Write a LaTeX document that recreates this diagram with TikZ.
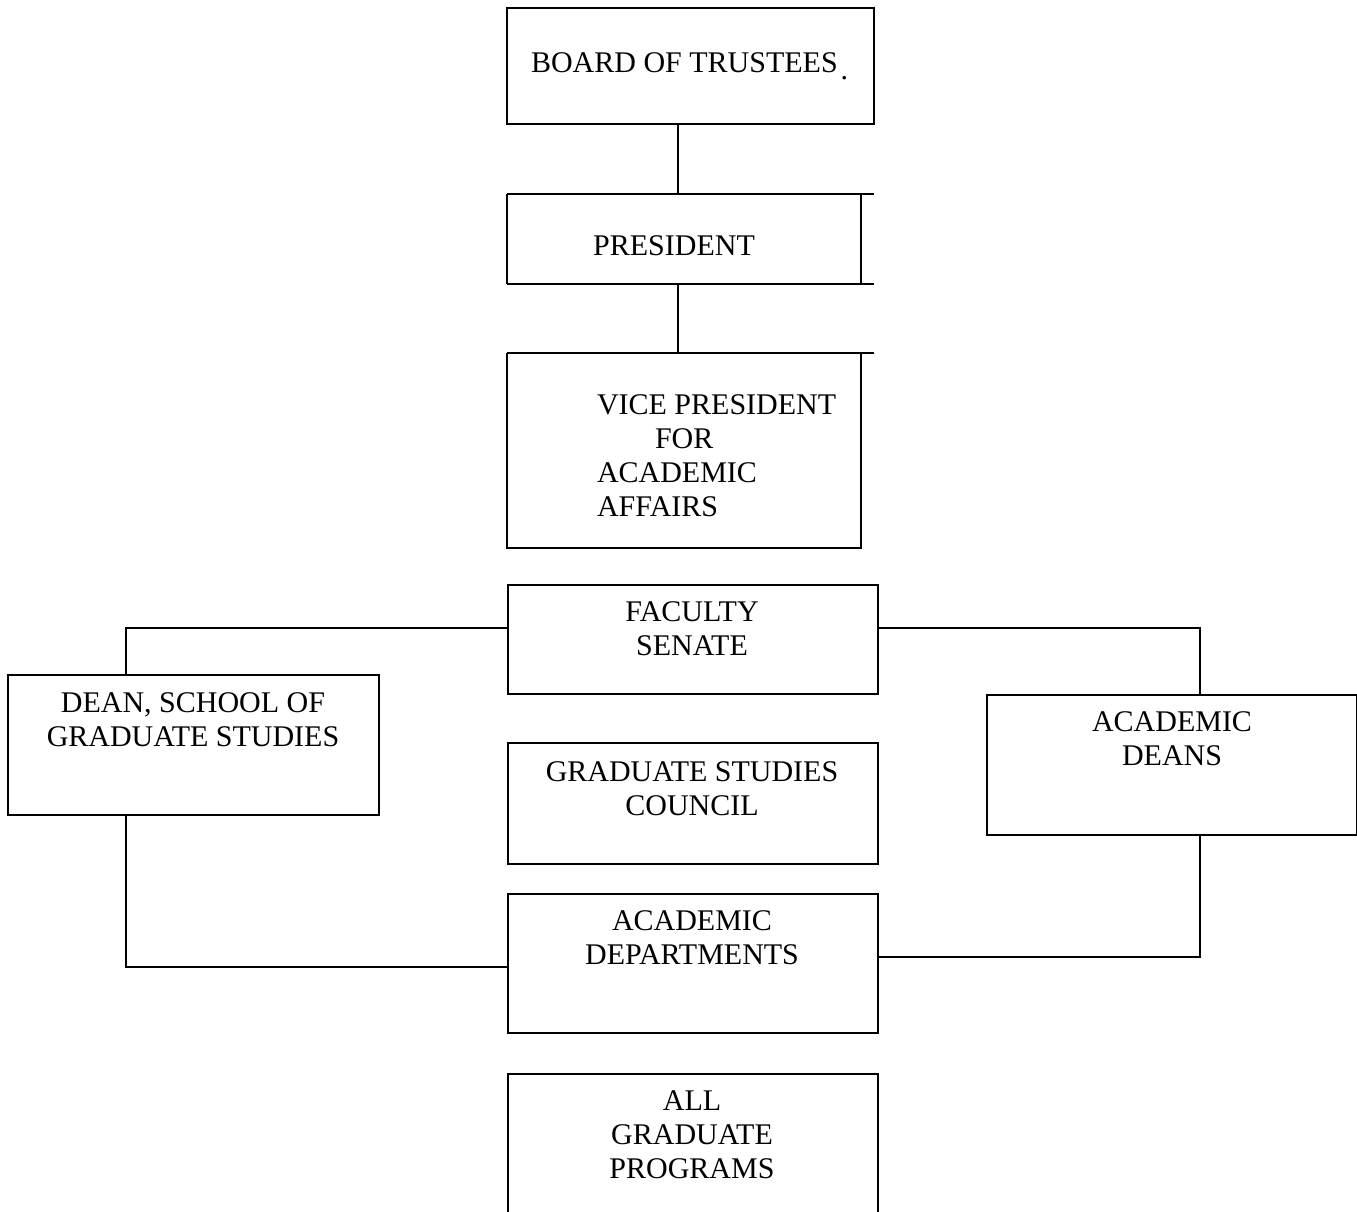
\documentclass[tikz,border=0pt]{standalone}
\usepackage{fontspec}
\setmainfont{Liberation Serif}
\begin{document}
\begin{tikzpicture}[x=1pt,y=-1pt,
  box/.style={draw, line width=1.6pt, inner sep=0pt, outer sep=0pt, anchor=north west},
  frame/.style={inner sep=0pt, outer sep=0pt, anchor=north west},
  conn/.style={line width=1.2pt},
  thinedge/.style={line width=1.1pt},
  thickedge/.style={line width=2.4pt},
  txt/.style={font=\fontsize{30}{34}\selectfont, inner sep=0pt, outer sep=0pt, align=center, anchor=north}]
\useasboundingbox (0,0) rectangle (1357,1212);
\begin{scope}
\clip (0,0) rectangle (1357,1212);
% Board of trustees
\node[box, line width=2.6pt, minimum width=367pt, minimum height=116pt] (board) at (507,8) {};
\node[txt, anchor=north west] (boardt) at (531,53) {BOARD OF TRUSTEES\hspace{3pt}\raisebox{-7pt}{.}};
% President (open frame)
\node[frame, minimum width=367pt, minimum height=90pt] (pres) at (507,194) {};
\draw[thinedge] (pres.north west) -- (pres.north east);
\draw[thinedge] (pres.north west) -- (pres.south west);
\draw[thickedge] (pres.south west) -- (pres.south east);
\coordinate (presv) at (861,194);
\draw[thinedge] (presv) -- (presv |- pres.south);
\node[txt] (prest) at (674,236) {PRESIDENT};
% Vice president
\node[frame, minimum width=354pt, minimum height=195pt] (vp) at (507,353) {};
\coordinate (vpte) at (874,353);
\draw[thinedge] (vp.north west) -- (vpte);
\draw[thinedge] (vp.north west) -- (vp.south west) -- (vp.south east) -- (vp.north east);
\node[txt, align=left, anchor=north west] (vpt) at (597,395) {VICE PRESIDENT\\\hspace*{58pt}FOR\\ACADEMIC\\AFFAIRS};
% connectors top
\coordinate (pt) at (678,194);
\draw[conn] (board.south -| pt) -- (pt);
\coordinate (vt) at (678,353);
\draw[conn] (pres.south -| vt) -- (vt);
% Faculty senate
\node[box, minimum width=370pt, minimum height=109pt] (senate) at (508,585) {};
\node[txt] (senatet) at (692,602) {FACULTY\\SENATE};
% Dean
\node[box, minimum width=371pt, minimum height=140pt] (dean) at (8,675) {};
\node[txt] (deant) at (193,693) {DEAN, SCHOOL OF\\GRADUATE STUDIES};
% Graduate studies council
\node[box, minimum width=370pt, minimum height=121pt] (council) at (508,743) {};
\node[txt] (councilt) at (692,762) {GRADUATE STUDIES\\COUNCIL};
% Academic deans
\node[box, minimum width=370pt, minimum height=140pt] (deans) at (987,695) {};
\node[txt] (deanst) at (1172,712) {ACADEMIC\\DEANS};
% Academic departments
\node[box, minimum width=370pt, minimum height=139pt] (depts) at (508,894) {};
\node[txt] (deptst) at (692,911) {ACADEMIC\\DEPARTMENTS};
% All graduate programs
\node[box, minimum width=370pt, minimum height=160pt] (progs) at (508,1074) {};
\node[txt] (progst) at (692,1091) {ALL\\GRADUATE\\PROGRAMS};
% connectors
\coordinate (sl) at (508,628);
\coordinate (sr) at (878,628);
\coordinate (dx) at (126,675);
\coordinate (ax) at (1200,695);
\draw[conn] (sl) -- (sl -| dx) -- (dx);
\draw[conn] (sr) -- (sr -| ax) -- (ax);
\coordinate (dl) at (508,967);
\coordinate (dr) at (878,957);
\draw[conn] (dean.south -| dx) -- (dx |- dl) -- (dl);
\draw[conn] (deans.south -| ax) -- (ax |- dr) -- (dr);
\end{scope}
\end{tikzpicture}
\end{document}
